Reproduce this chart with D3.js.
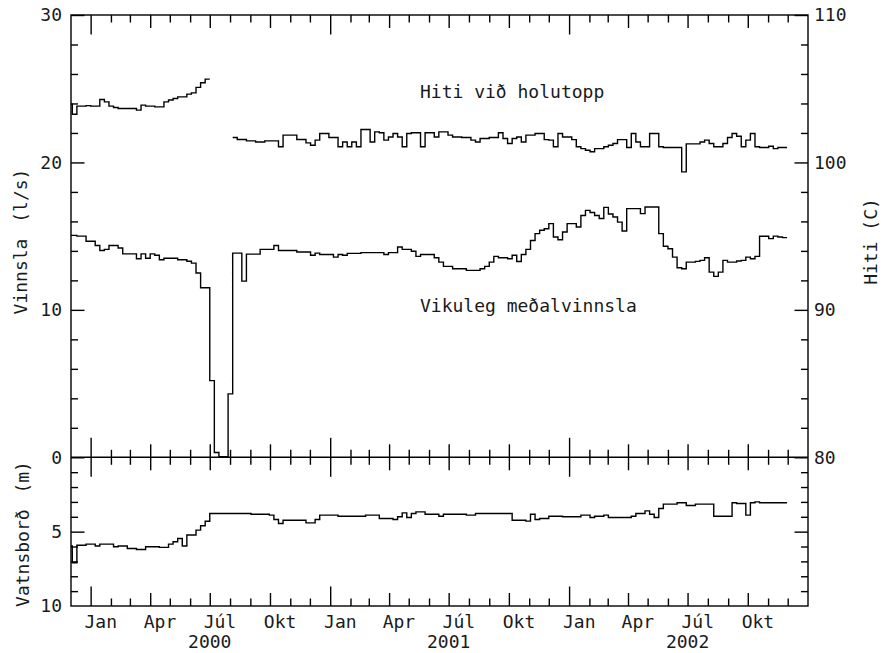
<!DOCTYPE html>
<html>
<head>
<meta charset="utf-8">
<script src="https://cdn.jsdelivr.net/npm/d3@7"></script>
<style>
  body { margin: 0; background: #fff; }
  text { font-family: "DejaVu Sans Mono", monospace; font-size: 18px; fill: #1a1a1a; }
</style>
</head>
<body>
<svg id="chart" width="883" height="653"></svg>
<script>
// ---------------- data ----------------
const firstWeek = "1999-11-27";          // start of first weekly value
const domainStart = "1999-12-02";
const domainEnd = "2003-01-01";

// Vikuleg meðalvinnsla (l/s), weekly
const production = [
  15.05,15.05,15.0,15.0,14.65,14.65,14.37,14.03,14.1,14.37,
  14.37,14.2,13.8,13.8,13.8,13.47,13.8,13.5,13.8,13.7,
  13.4,13.5,13.5,13.5,13.4,13.4,13.3,13.17,12.5,11.5,
  11.5,5.2,0.33,0.04,0.04,4.3,13.85,13.85,11.95,13.78,
  13.78,13.78,14.1,14.1,14.1,14.37,14.03,14.03,14.03,14.03,
  13.92,13.92,13.92,13.7,13.85,13.76,13.76,13.76,13.58,13.76,
  13.7,13.83,13.83,13.83,13.88,13.88,13.88,13.88,13.88,13.76,
  13.88,13.88,14.26,14.1,14.1,13.98,13.63,13.76,13.76,13.76,
  13.54,13.24,12.95,12.95,12.79,12.79,12.79,12.68,12.68,12.68,
  12.79,12.95,13.24,13.63,13.54,13.54,13.47,13.7,13.28,13.76,
  14.1,14.71,15.17,15.4,15.5,15.85,14.94,14.76,15.28,15.85,
  15.85,15.62,16.4,16.75,16.6,16.4,16.2,16.95,16.5,16.3,
  15.95,15.35,16.87,16.87,16.87,16.53,16.98,16.98,16.98,15.17,
  14.31,14.15,13.58,12.86,12.79,13.24,13.24,13.29,13.36,13.54,
  12.56,12.27,12.56,13.36,13.24,13.24,13.31,13.36,13.58,13.47,
  13.63,14.99,14.99,14.83,15.0,14.94,14.9
];

// Hiti við holutopp (C), weekly (null = no measurement)
const temperature = [
  103.95,103.27,103.82,103.82,103.85,103.82,103.82,104.27,104.11,103.82,
  103.73,103.66,103.66,103.66,103.66,103.55,103.89,103.82,103.82,103.77,
  103.77,104.11,104.23,104.34,104.45,104.45,104.63,104.72,105.09,105.4,
  105.65,null,null,null,null,null,101.69,101.56,101.56,101.46,
  101.46,101.39,101.39,101.46,101.46,101.46,101.06,101.85,101.85,101.85,
  101.56,101.56,101.33,101.17,101.51,101.96,101.96,101.69,101.69,101.06,
  101.39,101.06,101.39,101.06,102.23,102.23,101.39,102.07,102.01,101.51,
  101.73,101.96,101.73,101.06,101.96,102.01,102.01,101.06,102.01,102.01,
  101.73,102.07,102.07,101.85,101.73,101.73,101.69,101.69,101.51,101.39,
  101.62,101.62,101.69,101.69,102.01,101.62,101.28,101.62,101.73,101.39,
  101.85,101.85,101.96,101.96,101.55,101.51,101.06,101.96,101.73,101.73,
  101.55,101.06,100.94,100.83,100.72,100.94,100.94,101.06,101.17,101.28,
  101.55,101.55,101.01,101.96,101.39,101.06,101.06,101.96,101.96,101.06,
  101.01,101.01,101.01,101.01,99.36,101.26,101.26,101.26,101.39,101.51,
  101.28,101.06,101.06,101.28,101.69,101.96,101.78,101.06,101.51,101.96,
  101.06,101.01,101.01,101.1,100.94,101.01,101.01
];

// Vatnsborð (m), weekly
const waterLevel = [
  5.97,7.09,5.91,5.91,5.84,5.84,5.97,5.84,5.84,5.84,
  6.02,5.97,5.97,6.13,6.13,6.2,6.2,6.02,6.02,6.02,
  6.06,6.06,5.84,5.68,5.46,5.97,5.23,5.23,4.9,4.6,
  4.3,3.78,3.78,3.78,3.78,3.78,3.78,3.78,3.78,3.78,
  3.83,3.83,3.83,3.83,3.89,4.18,4.45,4.23,4.23,4.23,
  4.23,4.23,4.41,4.41,4.18,3.89,3.89,3.89,3.89,3.96,
  3.96,3.96,3.96,3.96,3.96,3.89,3.89,3.89,4.12,4.12,
  4.12,4.18,4.0,3.74,4.05,3.78,3.67,3.67,3.83,3.83,
  3.83,3.96,3.83,3.83,3.83,3.83,3.83,3.89,3.89,3.78,
  3.78,3.78,3.78,3.78,3.78,3.78,3.78,4.23,4.23,4.23,
  4.29,3.83,4.18,4.12,4.12,3.96,3.96,3.96,4.0,4.0,
  4.0,4.0,3.89,3.89,4.05,3.96,3.96,3.89,4.05,4.05,
  4.05,4.05,4.05,3.96,3.78,3.78,3.6,3.83,4.05,3.44,
  3.15,3.15,3.15,3.06,3.06,3.24,3.24,3.15,3.15,3.15,
  3.15,3.96,3.96,3.96,3.96,3.06,3.11,3.11,3.89,3.06,
  3.0,3.06,3.06,3.06,3.06,3.06,3.06
];

const monthNames = ["Jan", "Apr", "Júl", "Okt"];
const labelMonths = [0, 3, 6, 9];
const years = [2000, 2001, 2002];
const prodTicks = [0, 10, 20, 30];
const tempTicks = [80, 90, 100, 110];
const waterTicks = [5, 10];
const prodLabel = "Vikuleg meðalvinnsla";
const tempLabel = "Hiti við holutopp";

// ---------------- layout ----------------
const L = 71, R = 808, T = 15, M = 457.3, B = 606;
const svg = d3.select("#chart");

const parse = d3.utcParse("%Y-%m-%d");
const x = d3.scaleUtc().domain([parse(domainStart), parse(domainEnd)]).range([L, R]);
const yProd = d3.scaleLinear().domain([0, 30]).range([M, T]);
const yTemp = d3.scaleLinear().domain([80, 110]).range([M, T]);
const yWater = d3.scaleLinear().domain([0, 10]).range([M, B]);

const w0 = parse(firstWeek);
const weekDate = k => d3.utcDay.offset(w0, 7 * k);

// clip paths
const defs = svg.append("defs");
defs.append("clipPath").attr("id", "clipTop").append("rect")
  .attr("x", L).attr("y", T).attr("width", R - L).attr("height", M - T);
defs.append("clipPath").attr("id", "clipBot").append("rect")
  .attr("x", L).attr("y", M).attr("width", R - L).attr("height", B - M);

// step segments
function segments(values) {
  const segs = [];
  let cur = null;
  values.forEach((v, k) => {
    if (v == null) { if (cur) { segs.push(cur); cur = null; } return; }
    if (!cur) cur = [];
    cur.push({ t: weekDate(k), v: v, k: k });
  });
  if (cur) segs.push(cur);
  segs.forEach(s => { const last = s[s.length - 1]; s.push({ t: weekDate(last.k + 1), v: last.v }); });
  return segs;
}

function drawSeries(values, yScale, clip) {
  const line = d3.line().x(d => x(d.t)).y(d => yScale(d.v)).curve(d3.curveStepAfter);
  svg.append("g").attr("clip-path", `url(#${clip})`)
    .selectAll("path").data(segments(values)).join("path")
    .attr("d", line).attr("fill", "none").attr("stroke", "#000")
    .attr("stroke-width", 1.4).attr("stroke-linejoin", "miter");
}

drawSeries(temperature, yTemp, "clipTop");
drawSeries(production, yProd, "clipTop");
drawSeries(waterLevel, yWater, "clipBot");

// ---------------- axes ----------------
const months = d3.utcMonth.range(parse("2000-01-01"), parse(domainEnd));
const janM = months.filter(d => d.getUTCMonth() === 0);
const qM = months.filter(d => [3, 6, 9].includes(d.getUTCMonth()));
const oM = months.filter(d => d.getUTCMonth() % 3 !== 0);
const tickSets = [[janM, 19.5], [qM, 13], [oM, 7.5]];

function styleAxis(g) {
  g.select(".domain").remove();
  g.selectAll(".tick line").attr("stroke", "#000").attr("stroke-width", 1.4);
  g.selectAll(".tick text").remove();
}

tickSets.forEach(([vals, size]) => {
  // top frame: ticks down
  svg.append("g").attr("transform", `translate(0,${T})`)
    .call(d3.axisBottom(x).tickValues(vals).tickSize(size).tickFormat("")).call(styleAxis);
  // middle line: ticks both ways
  svg.append("g").attr("transform", `translate(0,${M})`)
    .call(d3.axisBottom(x).tickValues(vals).tickSize(size).tickFormat("")).call(styleAxis);
  svg.append("g").attr("transform", `translate(0,${M})`)
    .call(d3.axisTop(x).tickValues(vals).tickSize(size).tickFormat("")).call(styleAxis);
  // bottom frame: ticks up
  svg.append("g").attr("transform", `translate(0,${B})`)
    .call(d3.axisTop(x).tickValues(vals).tickSize(size).tickFormat("")).call(styleAxis);
});

// y ticks
const range = (a, b, s) => d3.range(a, b + 1e-9, s);
function yTicks(scale, side, major, minor) {
  const xpos = side === "left" ? L : R;
  const ax = side === "left" ? d3.axisRight : d3.axisLeft;
  svg.append("g").attr("transform", `translate(${xpos},0)`)
    .call(ax(scale).tickValues(major).tickSize(13.5).tickFormat("")).call(styleAxis);
  svg.append("g").attr("transform", `translate(${xpos},0)`)
    .call(ax(scale).tickValues(minor).tickSize(7).tickFormat("")).call(styleAxis);
}
yTicks(yProd, "left", prodTicks, range(2, 28, 2).filter(v => v % 10));
yTicks(yTemp, "right", tempTicks, range(82, 108, 2).filter(v => v % 10));
yTicks(yWater, "left", [5], range(1, 9, 1).filter(v => v !== 5));
yTicks(yWater, "right", [5], range(1, 9, 1).filter(v => v !== 5));

// frame
svg.append("rect").attr("x", L).attr("y", T).attr("width", R - L).attr("height", B - T)
  .attr("fill", "none").attr("stroke", "#000").attr("stroke-width", 1.4);
svg.append("line").attr("x1", L).attr("x2", R).attr("y1", M).attr("y2", M)
  .attr("stroke", "#000").attr("stroke-width", 1.4);

// ---------------- labels ----------------
svg.append("g").selectAll("text").data(prodTicks).join("text")
  .attr("x", 62).attr("y", d => yProd(d)).attr("dy", "0.36em")
  .attr("text-anchor", "end").text(d => d);
svg.append("g").selectAll("text").data(waterTicks).join("text")
  .attr("x", 62).attr("y", d => yWater(d)).attr("dy", "0.36em")
  .attr("text-anchor", "end").text(d => d);
svg.append("g").selectAll("text").data(tempTicks).join("text")
  .attr("x", 814).attr("y", d => yTemp(d)).attr("dy", "0.36em")
  .attr("text-anchor", "start").text(d => d);

// month labels
const monthLab = [];
years.forEach(yr => labelMonths.forEach((m, i) => {
  const a = new Date(Date.UTC(yr, m, 1)), b = new Date(Date.UTC(yr, m + 1, 1));
  monthLab.push({ t: new Date((+a + +b) / 2), name: monthNames[i] });
}));
svg.append("g").selectAll("text").data(monthLab).join("text")
  .attr("x", d => x(d.t)).attr("y", 628).attr("text-anchor", "middle").text(d => d.name);
svg.append("g").selectAll("text").data(years).join("text")
  .attr("x", d => x(new Date(Date.UTC(d, 6, 1)))).attr("y", 648)
  .attr("text-anchor", "middle").text(d => d);

// series labels
svg.append("text").attr("x", 420).attr("y", 98).text(tempLabel);
svg.append("text").attr("x", 420).attr("y", 311.5).text(prodLabel);

// axis titles
function vTitle(xp, yp, main, unit) {
  const t = svg.append("text").attr("transform", `translate(${xp},${yp}) rotate(-90)`)
    .attr("text-anchor", "middle");
  t.append("tspan").text(main + " ");
  t.append("tspan").attr("dx", 5).text(unit);
}
vTitle(27, 241.5, "Vinnsla", "(l/s)");
vTitle(29, 534, "Vatnsborð", "(m)");
const ht = svg.append("text").attr("transform", `translate(877,241.5) rotate(-90)`)
  .attr("text-anchor", "middle").text("Hiti (C)");
</script>
</body>
</html>
